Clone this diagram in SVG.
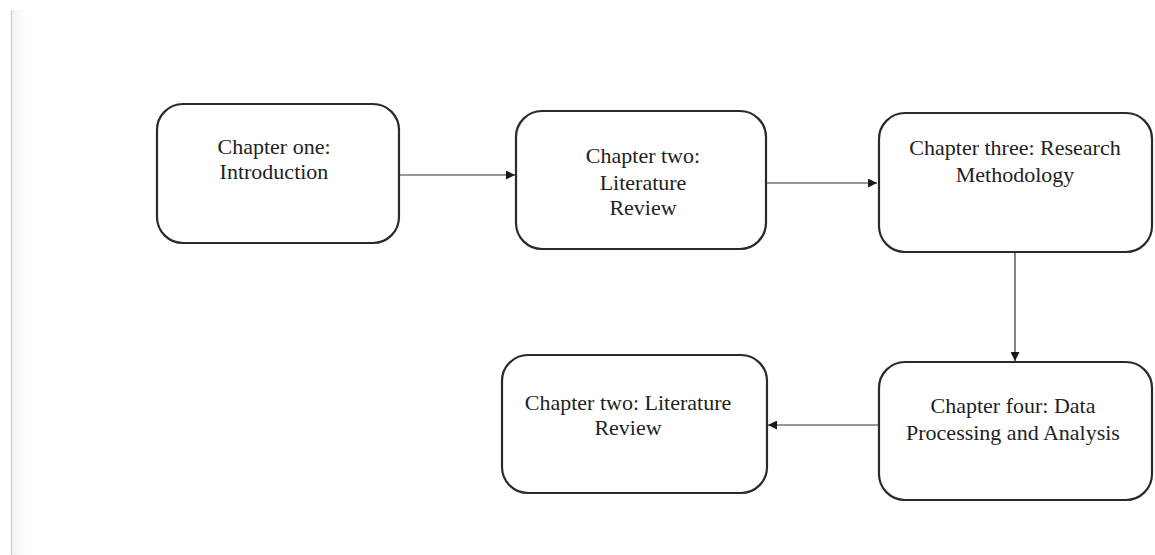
<svg xmlns="http://www.w3.org/2000/svg" width="1155" height="555" viewBox="0 0 1155 555">
  <style>
    .box { fill: #ffffff; stroke: #2a2a2a; stroke-width: 2.2; }
    .label { font-family: 'Liberation Serif', 'Tinos', 'Times New Roman', 'DejaVu Serif', serif; font-size: 22px; fill: #222222; text-anchor: middle; }
    .edge { fill: none; stroke: #333333; stroke-width: 1.2; }
  </style>
  <defs>
    <marker id="arrow" viewBox="0 0 10 10" refX="10" refY="5" markerWidth="9" markerHeight="9" markerUnits="userSpaceOnUse" orient="auto">
      <path d="M0,0 L10,5 L0,10 z" fill="#1a1a1a"/>
    </marker>
    <linearGradient id="margin" x1="0" y1="0" x2="1" y2="0">
      <stop offset="0" stop-color="#f2f2f2"/>
      <stop offset="1" stop-color="#ffffff"/>
    </linearGradient>
  </defs>

  <rect width="1155" height="555" fill="#ffffff"/>

  <!-- page margin line -->
  <g id="margin-line">
    <rect x="12" y="10" width="14" height="545" fill="url(#margin)"/>
    <line x1="11.5" y1="10" x2="11.5" y2="555" stroke="#d2d2d2" stroke-width="1.5"/>
  </g>

  <!-- connectors -->
  <g id="connectors">
    <line class="edge" x1="399" y1="175" x2="515" y2="175" marker-end="url(#arrow)"/>
    <line class="edge" x1="766" y1="183" x2="877" y2="183" marker-end="url(#arrow)"/>
    <line class="edge" x1="1015" y1="252" x2="1015" y2="361" marker-end="url(#arrow)"/>
    <line class="edge" x1="878" y1="425" x2="768" y2="425" marker-end="url(#arrow)"/>
  </g>

  <g id="node-ch1">
    <rect class="box" x="157" y="104" width="242" height="139" rx="26"/>
    <text class="label" x="274" y="154">Chapter one:</text>
    <text class="label" x="274" y="179">Introduction</text>
  </g>

  <g id="node-ch2">
    <rect class="box" x="516" y="111" width="250" height="138" rx="26"/>
    <text class="label" x="643" y="163">Chapter two:</text>
    <text class="label" x="643" y="190">Literature</text>
    <text class="label" x="643" y="215">Review</text>
  </g>

  <g id="node-ch3">
    <rect class="box" x="879" y="113" width="273" height="139" rx="26"/>
    <text class="label" x="1015" y="155">Chapter three: Research</text>
    <text class="label" x="1015" y="182">Methodology</text>
  </g>

  <g id="node-ch4">
    <rect class="box" x="879" y="362" width="273" height="138" rx="26"/>
    <text class="label" x="1013" y="413">Chapter four: Data</text>
    <text class="label" x="1013" y="440">Processing and Analysis</text>
  </g>

  <g id="node-ch5">
    <rect class="box" x="502" y="355" width="265" height="138" rx="26"/>
    <text class="label" x="628" y="410">Chapter two: Literature</text>
    <text class="label" x="628" y="435">Review</text>
  </g>
</svg>
